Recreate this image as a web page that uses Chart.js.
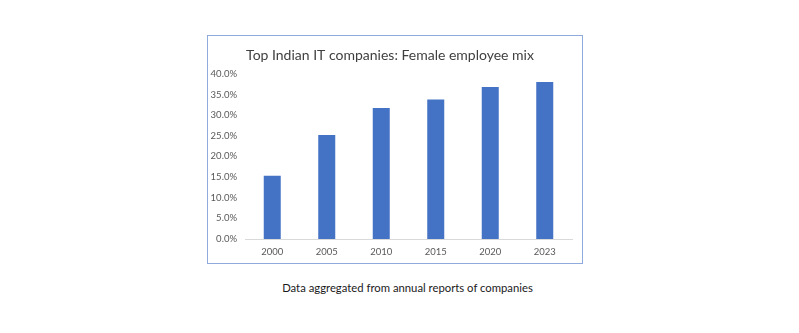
<!DOCTYPE html>
<html>
<head>
<meta charset="utf-8">
<script src="https://cdn.jsdelivr.net/npm/chart.js@4/dist/chart.umd.min.js"></script>
<style>
    html, body {
        margin: 0;
        padding: 0;
        background: #ffffff;
        width: 799px;
        height: 333px;
        overflow: hidden;
    }
    #frame {
        position: absolute;
        left: 207px;
        top: 35px;
        width: 374px;
        height: 227px;
        border: 1px solid #8faadc;
    }
    #frame canvas {
        display: block;
    }
    #caption {
        position: absolute;
        left: 8px;
        width: 799px;
        top: 281px;
        text-align: center;
        font-family: Lato, "Open Sans", sans-serif;
        font-size: 11.3px;
        color: #1a1a1a;
    }
</style>
</head>
<body>
<div id="frame"><canvas id="mixChart" width="374" height="227"></canvas></div>
<div id="caption">Data aggregated from annual reports of companies</div>

<script>
// Share of women in the workforce of the big Indian IT firms
const years = ["2000", "2005", "2010", "2015", "2020", "2023"];
const femaleShare = [15.3, 25.2, 31.7, 33.8, 36.8, 38.0];
const yTicks = [0, 5, 10, 15, 20, 25, 30, 35, 40];

document.addEventListener("DOMContentLoaded", () => {
    const ctx = document.getElementById("mixChart").getContext("2d");

    new Chart(ctx, {
        type: "bar",
        data: {
            labels: years,
            datasets: [
                {
                    label: "Female employee mix",
                    data: femaleShare,
                    backgroundColor: "#4472c4",
                    borderWidth: 0,
                    categoryPercentage: 0.8,
                    barPercentage: 0.39
                }
            ]
        },
        options: {
            responsive: false,
            animation: false,
            layout: {
                padding: { left: 0, right: 10, top: 0, bottom: 0 }
            },
            plugins: {
                legend: { display: false },
                tooltip: { enabled: false },
                title: {
                    display: true,
                    text: "Top Indian IT companies: Female employee mix",
                    color: "#404040",
                    font: { family: "Lato", size: 14, weight: "normal" },
                    padding: { top: 11, bottom: 10 }
                }
            },
            scales: {
                x: {
                    grid: { display: false, drawTicks: false },
                    border: { color: "#d9d9d9", width: 1 },
                    ticks: {
                        color: "#595959",
                        font: { family: "Lato", size: 9.5 },
                        padding: 7
                    },
                    afterFit: scale => { scale.height = 24; }
                },
                y: {
                    min: 0,
                    max: 40,
                    afterBuildTicks: scale => {
                        scale.ticks = yTicks.map(v => ({ value: v }));
                    },
                    grid: { display: false, drawTicks: false },
                    border: { display: false },
                    ticks: {
                        color: "#595959",
                        font: { family: "Lato", size: 9.5 },
                        padding: 8,
                        callback: v => v.toFixed(1) + "%"
                    },
                    afterFit: scale => { scale.width = 37; }
                }
            }
        }
    });
});
</script>
</body>
</html>
